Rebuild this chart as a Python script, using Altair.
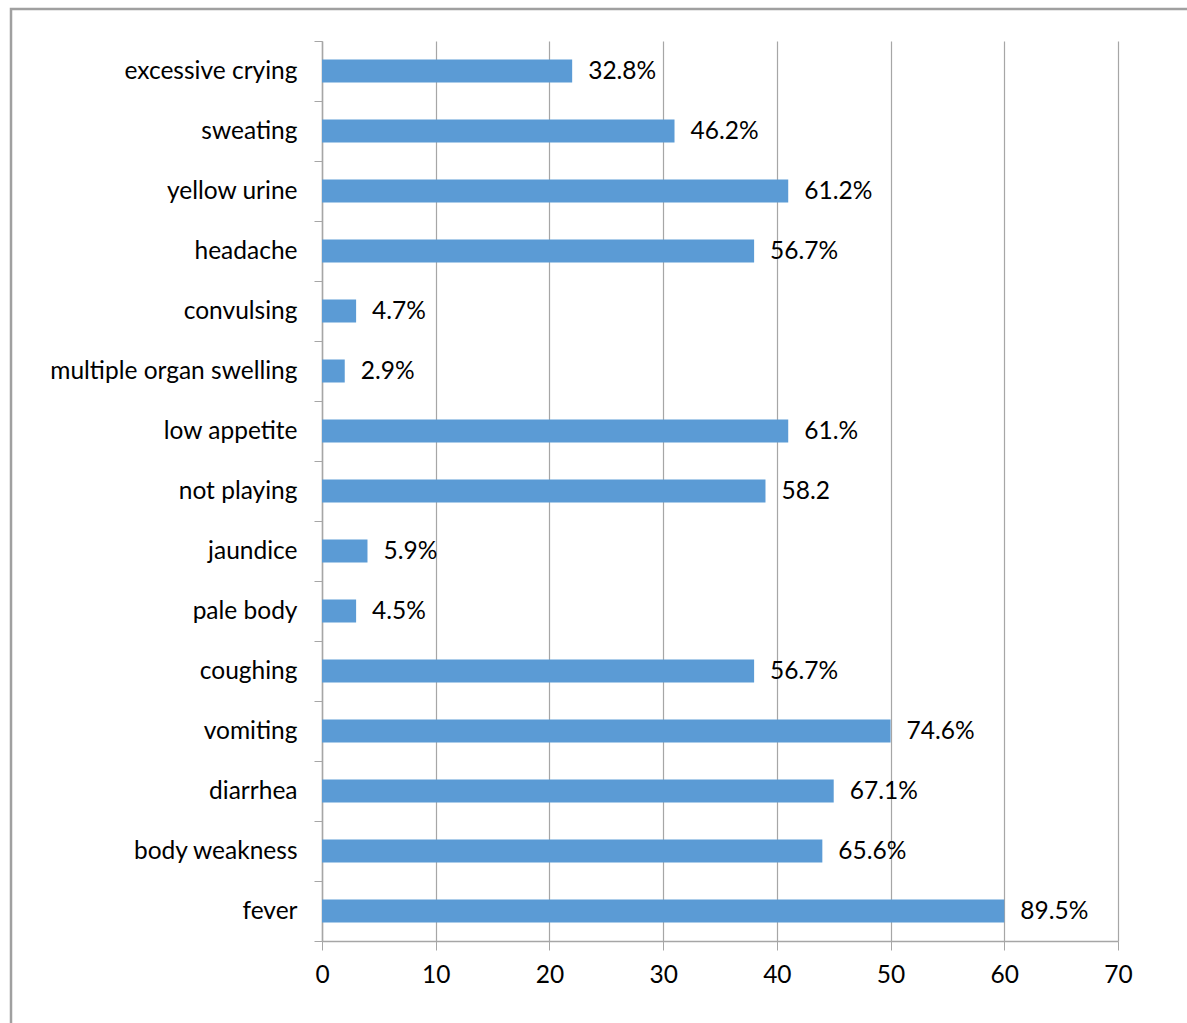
import altair as alt
import pandas as pd

symptoms = ["excessive crying", "sweating", "yellow urine", "headache", "convulsing",
            "multiple organ swelling", "low appetite", "not playing", "jaundice",
            "pale body", "coughing", "vomiting", "diarrhea", "body weakness", "fever"]
counts = [22, 31, 41, 38, 3, 2, 41, 39, 4, 3, 38, 50, 45, 44, 60]
labels = ["32.8%", "46.2%", "61.2%", "56.7%", "4.7%", "2.9%", "61.%", "58.2",
          "5.9%", "4.5%", "56.7%", "74.6%", "67.1%", "65.6%", "89.5%"]
x_ticks = [0, 10, 20, 30, 40, 50, 60, 70]

df = pd.DataFrame({"symptom": symptoms, "count": counts, "label": labels})

FONT = "Lato"
FS = 24.5
GRID = "#A6A6A6"

y_enc = alt.Y("symptom:N", sort=symptoms, title=None,
              scale=alt.Scale(paddingInner=0, paddingOuter=0),
              axis=alt.Axis(tickBand="extent", ticks=True, tickSize=8, tickColor=GRID,
                            domainColor=GRID, domainWidth=1.5, labelFontSize=FS,
                            labelFont=FONT, labelColor="black", labelPadding=17,
                            grid=False, labelLimit=400))
x_enc = alt.X("count:Q", title=None,
              scale=alt.Scale(domain=[0, 70], nice=False, zero=True),
              axis=alt.Axis(values=x_ticks, tickSize=9, tickColor=GRID, domainColor=GRID,
                            domainWidth=1.5, grid=True, gridColor=GRID, gridWidth=1.2,
                            labelFontSize=FS, labelFont=FONT, labelColor="black",
                            labelPadding=13, labelFlush=False))

bars = alt.Chart(df).mark_bar(color="#5B9BD5", size=23).encode(x=x_enc, y=y_enc)

text = alt.Chart(df).mark_text(align="left", baseline="middle", dx=16, dy=1, font=FONT,
                               fontSize=FS, color="black").encode(
    x="count:Q", y=alt.Y("symptom:N", sort=symptoms), text="label:N")

frame = alt.Chart(pd.DataFrame({"a": [0]})).mark_rect(
    fill=None, stroke="#A0A0A0", strokeWidth=2.5, clip=False).encode(
    x=alt.value(-311), x2=alt.value(900), y=alt.value(-32), y2=alt.value(1100))

chart = alt.layer(frame, bars, text).properties(
    width=796, height=900,
    background="white",
    padding={"left": 322, "top": 41, "right": 69, "bottom": 82},
    autosize=alt.AutoSizeParams(type="none"),
).configure_view(stroke="transparent", strokeWidth=0)

chart.save("out.html", embed_options={"renderer": "svg", "actions": False})
